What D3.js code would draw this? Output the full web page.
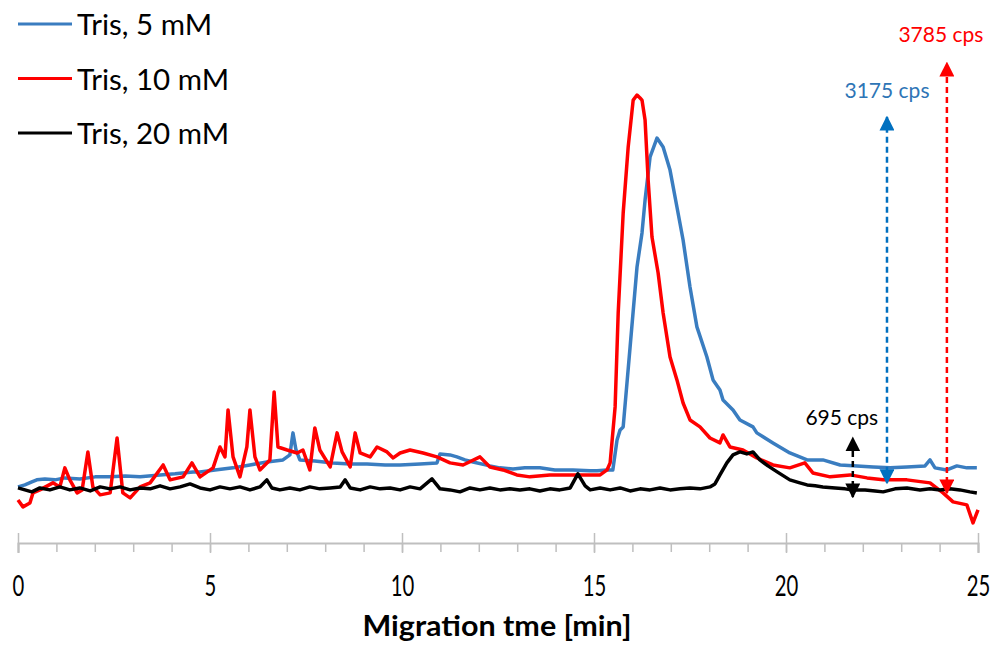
<!DOCTYPE html>
<html>
<head>
<meta charset="utf-8">
<title>Migration time traces</title>
<script src="https://cdn.jsdelivr.net/npm/d3@7"></script>
<style>
  body { margin: 0; background: #fff; }
  text { font-family: Lato, "Open Sans", sans-serif; }
</style>
</head>
<body>
<div id="chart"></div>
<script>
// migration time [min] and signal [cps] (baseline of Tris 20 mM = 0)
var t20 = [0.00,0.18,0.36,0.57,0.83,1.09,1.35,1.61,1.88,2.14,2.40,2.66,2.92,3.18,3.44,3.70,3.96,4.22,4.48,4.74,5.00,5.26,5.52,5.78,6.04,6.30,6.48,6.61,6.82,7.08,7.34,7.60,7.86,8.13,8.39,8.52,8.65,8.91,9.17,9.43,9.69,9.95,10.21,10.47,10.78,10.99,11.25,11.51,11.77,12.03,12.29,12.55,12.81,13.07,13.33,13.59,13.85,14.11,14.38,14.58,14.77,14.90,15.16,15.42,15.68,15.94,16.20,16.46,16.72,16.98,17.24,17.50,17.76,18.02,18.15,18.28,18.46,18.62,18.80,18.98,19.14,19.32,19.53,19.77,20.10,20.36,20.55,20.76,20.96,21.28,21.54,21.74,22.06,22.32,22.53,22.84,23.15,23.49,23.75,24.01,24.27,24.53,24.79,24.97];
var v20 = [17,0,-17,17,0,26,0,17,-9,26,9,26,0,17,9,35,9,26,52,17,0,26,9,26,0,26,87,17,0,17,0,26,9,17,26,87,17,0,26,9,17,0,26,9,95,9,0,-17,17,0,17,0,9,0,9,-9,9,0,17,139,35,0,17,0,17,-9,9,0,17,0,9,17,9,26,52,130,234,303,329,312,329,260,208,156,87,61,43,35,26,17,9,0,0,-9,-17,9,17,0,9,0,9,0,-17,-26];

var t5 = [0.00,0.18,0.36,0.49,0.70,0.96,1.22,1.61,2.01,2.40,2.79,3.18,3.70,4.09,4.56,4.74,5.13,5.60,6.04,6.48,6.90,7.08,7.16,7.24,7.34,7.73,8.20,8.65,9.09,9.56,9.95,10.47,10.91,10.99,11.25,11.43,11.64,11.85,12.29,12.55,12.89,13.20,13.59,13.98,14.45,14.90,15.08,15.34,15.49,15.60,15.68,15.76,15.94,16.12,16.25,16.33,16.46,16.64,16.80,16.98,17.16,17.32,17.50,17.68,17.94,18.10,18.28,18.36,18.62,18.80,19.14,19.24,19.66,20.10,20.55,20.96,21.41,21.85,22.27,22.71,23.15,23.62,23.75,23.88,24.19,24.45,24.71,24.97];
var v5 = [26,43,69,87,95,87,104,95,113,113,121,113,130,139,156,156,173,191,216,242,260,303,494,346,260,251,234,225,225,216,216,225,234,312,303,286,260,242,208,191,182,191,191,173,173,165,165,173,173,433,520,546,1238,1931,2226,2511,2884,3048,2970,2771,2451,2165,1758,1412,1152,953,866,779,693,606,546,494,407,320,260,260,216,208,199,191,199,208,260,191,173,208,191,191];

var t10 = [0.00,0.13,0.31,0.39,0.57,0.91,1.09,1.22,1.35,1.54,1.67,1.82,1.95,2.14,2.40,2.58,2.73,2.92,3.18,3.44,3.78,3.96,4.30,4.53,4.74,5.08,5.26,5.39,5.47,5.60,5.78,5.96,6.04,6.17,6.30,6.56,6.67,6.77,7.01,7.27,7.42,7.60,7.73,7.86,8.13,8.31,8.44,8.65,8.78,8.91,9.17,9.35,9.61,9.77,9.95,10.21,10.55,10.91,11.25,11.59,12.03,12.29,12.63,12.99,13.33,13.85,14.38,14.90,15.16,15.34,15.42,15.55,15.63,15.76,15.89,16.02,16.12,16.20,16.25,16.33,16.41,16.51,16.67,16.80,16.98,17.16,17.32,17.50,17.76,18.02,18.28,18.36,18.54,18.88,19.24,19.66,20.10,20.49,20.70,21.15,21.67,22.11,22.53,23.15,23.75,24.09,24.35,24.71,24.87,25.00];
var v10 = [-87,-147,-113,-26,0,61,26,191,87,-26,0,329,26,-43,-26,450,-26,-69,26,61,216,87,113,234,113,191,372,286,693,286,113,372,693,286,173,260,849,372,346,320,346,173,537,346,199,494,329,199,494,320,286,372,329,277,320,346,320,286,234,216,286,199,173,130,113,130,130,130,130,173,234,719,1533,2399,2970,3377,3421,3395,3377,3204,2685,2191,1879,1533,1152,953,753,606,546,450,407,476,372,346,277,216,191,234,147,113,130,104,87,87,61,-26,-104,-130,-286,-173];

var seriesNames = ['Tris, 5 mM', 'Tris, 10 mM', 'Tris, 20 mM'];
var seriesColors = ['#3a7dc0', '#ff0000', '#000000'];

var xTicks = [0, 5, 10, 15, 20, 25];
var minorTicks = d3.range(0, 26, 1);

// double-headed height arrows: time, bottom, top, label
var arrowTimes = [21.74, 22.63, 24.19];
var arrowBottoms = [-61, 61, -26];
var arrowTops = [450, 3230, 3698];
var arrowLabels = ['695 cps', '3175 cps', '3785 cps'];
var arrowColors = ['#000000', '#0070c0', '#ff0000'];
var labelColors = ['#000000', '#2e75b6', '#ff0000'];

var width = 995, height = 648;

var svg = d3.select('#chart')
    .append('svg')
        .attr('width', width)
        .attr('height', height);

var x = d3.scaleLinear().domain([0, 25]).range([18, 978]);
var y = d3.scaleLinear().domain([-460, 4045]).range([543, 23]);

// x axis
var axisY = 543;
var gMinor = svg.append('g')
    .attr('transform', `translate(0,${axisY})`)
    .call(d3.axisBottom(x).tickValues(minorTicks).tickSize(9).tickFormat(''));
gMinor.select('.domain').remove();
gMinor.selectAll('line').attr('stroke', '#bfbfbf').attr('stroke-width', 1.5);

var gAxis = svg.append('g')
    .attr('transform', `translate(0,${axisY})`)
    .call(d3.axisBottom(x).tickValues(xTicks).tickSizeOuter(0).tickSize(10));
gAxis.select('.domain').attr('stroke', '#bfbfbf').attr('stroke-width', 2);
gAxis.selectAll('.tick line')
    .attr('y1', -10)
    .attr('stroke', '#bfbfbf')
    .attr('stroke-width', 1.5);
gAxis.selectAll('.tick text')
    .attr('y', 53)
    .attr('dy', null)
    .attr('fill', '#000')
    .attr('transform', 'scale(0.7,1)')
    .style('font-size', '29px')
    .style('font-family', 'Lato, sans-serif');

svg.append('text')
    .attr('x', 497)
    .attr('y', 636)
    .attr('text-anchor', 'middle')
    .attr('textLength', 269)
    .attr('lengthAdjust', 'spacingAndGlyphs')
    .style('font-size', '29px')
    .style('font-weight', 'bold')
    .text('Migration tme [min]');

// traces
var traces = [
    t5.map((t, i) => [t, v5[i]]),
    t10.map((t, i) => [t, v10[i]]),
    t20.map((t, i) => [t, v20[i]])
];
var line = d3.line().x(d => x(d[0])).y(d => y(d[1]));

svg.selectAll('path.trace')
    .data(traces)
    .enter()
    .append('path')
        .attr('class', 'trace')
        .attr('d', line)
        .attr('fill', 'none')
        .attr('stroke', (d, i) => seriesColors[i])
        .attr('stroke-width', 3.5)
        .attr('stroke-linejoin', 'round');

// legend
var legend = svg.selectAll('g.legend')
    .data(seriesNames)
    .enter()
    .append('g')
        .attr('class', 'legend')
        .attr('transform', (d, i) => `translate(18,${24 + i * 54.5})`);
legend.append('line')
    .attr('x1', 0).attr('x2', 54)
    .attr('stroke', (d, i) => seriesColors[i])
    .attr('stroke-width', 3);
legend.append('text')
    .attr('x', 59)
    .attr('y', 11)
    .style('font-size', '29.5px')
    .text(d => d);

// arrows
var defs = svg.append('defs');
arrowColors.forEach((c, i) => {
    defs.append('marker')
        .attr('id', 'head' + i)
        .attr('viewBox', '0 0 10 10')
        .attr('refX', 9).attr('refY', 5)
        .attr('markerUnits', 'userSpaceOnUse')
        .attr('markerWidth', 15).attr('markerHeight', 15)
        .attr('orient', 'auto-start-reverse')
        .append('path')
            .attr('d', 'M0,0L10,5L0,10Z')
            .attr('fill', c);
});

svg.selectAll('line.arrow')
    .data(arrowTimes)
    .enter()
    .append('line')
        .attr('class', 'arrow')
        .attr('x1', d => x(d)).attr('x2', d => x(d))
        .attr('y1', (d, i) => y(arrowBottoms[i]))
        .attr('y2', (d, i) => y(arrowTops[i]))
        .attr('stroke', (d, i) => arrowColors[i])
        .attr('stroke-width', 2.5)
        .attr('stroke-dasharray', '6,4')
        .attr('marker-start', (d, i) => `url(#head${i})`)
        .attr('marker-end', (d, i) => `url(#head${i})`);

var labelDx = [-11, 0, -6];
var labelDy = [-13, -19, -21];
svg.selectAll('text.arrowlabel')
    .data(arrowLabels)
    .enter()
    .append('text')
        .attr('class', 'arrowlabel')
        .attr('x', (d, i) => x(arrowTimes[i]) + labelDx[i])
        .attr('y', (d, i) => y(arrowTops[i]) + labelDy[i])
        .attr('text-anchor', 'middle')
        .attr('fill', (d, i) => labelColors[i])
        .style('font-size', '21px')
        .text(d => d);
</script>
</body>
</html>
